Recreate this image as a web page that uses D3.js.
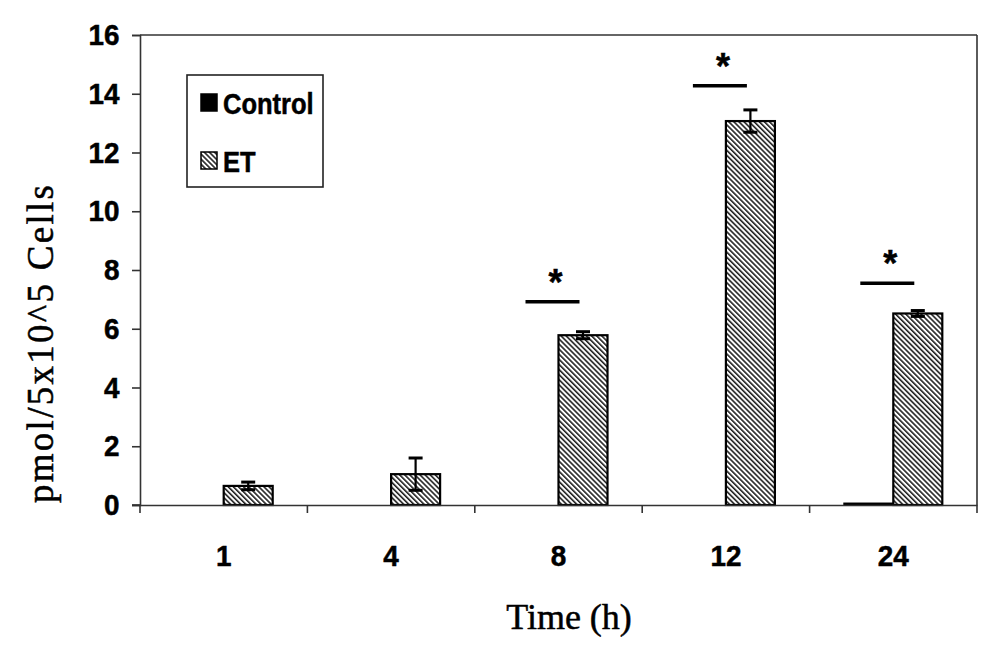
<!DOCTYPE html>
<html>
<head>
<meta charset="utf-8">
<script src="https://cdn.jsdelivr.net/npm/d3@7"></script>
<style>
  html, body { margin: 0; padding: 0; background: #fff; }
  svg { display: block; }
</style>
</head>
<body>
<svg id="chart" width="1000" height="661"></svg>
<script>
// ---- data ----
const categories = ["1", "4", "8", "12", "24"];
const seriesNames = ["Control", "ET"];
const controlValues = [0, 0, 0, 0, 0.05];
const etValues = [0.65, 1.05, 5.78, 13.07, 6.52];
const etErrors = [0.13, 0.55, 0.12, 0.38, 0.10];
const sigCategories = ["8", "12", "24"];
const sigLevels = [6.92, 14.27, 7.55];
const yTickValues = [0, 2, 4, 6, 8, 10, 12, 14, 16];
const xTitle = "Time (h)";
const yTitle = "pmol/5x10^5 Cells";

(function () {
// ---- layout ----
const svg = d3.select("#chart");
const pLeft = 140, pRight = 977, pTop = 35, pBottom = 505;

const x = d3.scaleBand().domain(categories).range([pLeft, pRight]).padding(0);
const xs = d3.scaleBand().domain(seriesNames).range([0, x.bandwidth()])
  .paddingInner(0).paddingOuter(0.708);
const y = d3.scaleLinear().domain([0, 16]).range([pBottom, pTop]);

// hatch pattern
const defs = svg.append("defs");
const pat = defs.append("pattern")
  .attr("id", "hatch")
  .attr("patternUnits", "userSpaceOnUse")
  .attr("width", 3.6).attr("height", 10)
  .attr("patternTransform", "rotate(-45)");
pat.append("rect").attr("width", 3.6).attr("height", 10).attr("fill", "#fff");
pat.append("line").attr("x1", 0.8).attr("x2", 0.8).attr("y1", 0).attr("y2", 10)
  .attr("stroke", "#111").attr("stroke-width", 1.5);

// plot frame (top and right)
svg.append("line").attr("x1", pLeft).attr("x2", pRight).attr("y1", pTop).attr("y2", pTop)
  .attr("stroke", "#333").attr("stroke-width", 1.6);
svg.append("line").attr("x1", pRight).attr("x2", pRight).attr("y1", pTop).attr("y2", pBottom)
  .attr("stroke", "#333").attr("stroke-width", 1.6);

// bars
const gBars = svg.append("g");
categories.forEach((c, i) => {
  if (controlValues[i] > 0) {
    gBars.append("rect")
      .attr("x", x(c) + xs("Control"))
      .attr("y", y(controlValues[i]))
      .attr("width", xs.bandwidth())
      .attr("height", y(0) - y(controlValues[i]))
      .attr("fill", "#000").attr("stroke", "#000").attr("stroke-width", 2);
  }
  gBars.append("rect")
    .attr("x", x(c) + xs("ET"))
    .attr("y", y(etValues[i]))
    .attr("width", xs.bandwidth())
    .attr("height", y(0) - y(etValues[i]))
    .attr("fill", "url(#hatch)").attr("stroke", "#000").attr("stroke-width", 2.2);
});

// error bars
const gErr = svg.append("g").attr("stroke", "#000").attr("stroke-width", 2.2);
categories.forEach((c, i) => {
  const cx = x(c) + xs("ET") + xs.bandwidth() / 2;
  const hi = y(etValues[i] + etErrors[i]);
  const lo = y(etValues[i] - etErrors[i]);
  gErr.append("line").attr("x1", cx).attr("x2", cx).attr("y1", hi).attr("y2", lo);
  gErr.append("line").attr("x1", cx - 7).attr("x2", cx + 7).attr("y1", hi).attr("y2", hi).attr("stroke-width", 3);
  gErr.append("line").attr("x1", cx - 7).attr("x2", cx + 7).attr("y1", lo).attr("y2", lo).attr("stroke-width", 3);
});

const heavy = sel => sel.attr("stroke", "#000").attr("stroke-width", 0.5);

// axes
const yAxis = d3.axisLeft(y).tickValues(yTickValues).tickSize(8).tickPadding(14).tickFormat(d3.format("d"));
const gy = svg.append("g").attr("transform", `translate(${pLeft},0)`).call(yAxis);
gy.select(".domain").attr("stroke", "#333").attr("stroke-width", 1.6);
gy.selectAll(".tick line").attr("stroke", "#333").attr("stroke-width", 1.6);
gy.selectAll(".tick text")
  .attr("font-family", "Liberation Sans, Arial, sans-serif")
  .attr("font-weight", "bold").attr("font-size", 30).attr("fill", "#000")
  .attr("transform", "scale(0.93,1)").call(heavy);

const xAxis = d3.axisBottom(x).tickSize(0).tickPadding(40);
const gx = svg.append("g").attr("transform", `translate(0,${pBottom})`).call(xAxis);
gx.select(".domain").attr("stroke", "#333").attr("stroke-width", 1.6);
gx.selectAll(".tick text")
  .attr("font-family", "Liberation Sans, Arial, sans-serif")
  .attr("font-weight", "bold").attr("font-size", 30).attr("fill", "#000")
  .attr("transform", "scale(0.93,1)").call(heavy);
// extend x axis line to the left tick
svg.append("line").attr("x1", pLeft - 8).attr("x2", pLeft).attr("y1", pBottom).attr("y2", pBottom)
  .attr("stroke", "#333").attr("stroke-width", 1.6);
// x ticks at band boundaries
const boundaries = categories.map(c => x(c)).concat([x(categories[categories.length - 1]) + x.bandwidth()]);
svg.append("g").selectAll("line").data(boundaries).join("line")
  .attr("x1", d => d).attr("x2", d => d)
  .attr("y1", pBottom).attr("y2", pBottom + 8)
  .attr("stroke", "#333").attr("stroke-width", 1.6);

// significance markers
const gSig = svg.append("g");
sigCategories.forEach((c, i) => {
  const cx = x(c) + x.bandwidth() / 2;
  const ly = y(sigLevels[i]);
  gSig.append("line").attr("x1", cx - 33).attr("x2", cx + 21)
    .attr("y1", ly).attr("y2", ly).attr("stroke", "#000").attr("stroke-width", 3.5);
  gSig.append("text").attr("x", cx - 3).attr("y", ly - 24 + 17)
    .attr("text-anchor", "middle")
    .attr("font-family", "Liberation Sans, Arial, sans-serif")
    .attr("font-weight", "bold").attr("font-size", 36).text("*").call(heavy);
});

// axis titles
svg.append("text")
  .attr("x", 569).attr("y", 629)
  .attr("text-anchor", "middle")
  .attr("font-family", "Liberation Serif, Times New Roman, serif")
  .attr("font-size", 36).attr("fill", "#000")
  .text(xTitle).call(heavy);

svg.append("text")
  .attr("transform", "translate(53,344) rotate(-90)")
  .attr("text-anchor", "middle")
  .attr("font-family", "Liberation Serif, Times New Roman, serif")
  .attr("font-size", 37).attr("fill", "#000")
  .attr("textLength", 318).attr("lengthAdjust", "spacing")
  .text(yTitle).call(heavy);

// legend
const lg = svg.append("g");
lg.append("rect").attr("x", 187).attr("y", 75).attr("width", 136).attr("height", 112)
  .attr("fill", "#fff").attr("stroke", "#222").attr("stroke-width", 1.6);
const legendItems = [
  { name: seriesNames[0], fill: "#000", y: 94 },
  { name: seriesNames[1], fill: "url(#hatch)", y: 152 }
];
legendItems.forEach(d => {
  lg.append("rect").attr("x", 201).attr("y", d.y).attr("width", 16).attr("height", 17)
    .attr("fill", d.fill).attr("stroke", "#000").attr("stroke-width", 1.5);
  lg.append("text")
    .attr("transform", `translate(223,${d.y + 20}) scale(0.88,1)`)
    .attr("font-family", "Liberation Sans, Arial, sans-serif")
    .attr("font-weight", "bold").attr("font-size", 29).attr("fill", "#000")
    .text(d.name).call(heavy);
});
})();
</script>
</body>
</html>
